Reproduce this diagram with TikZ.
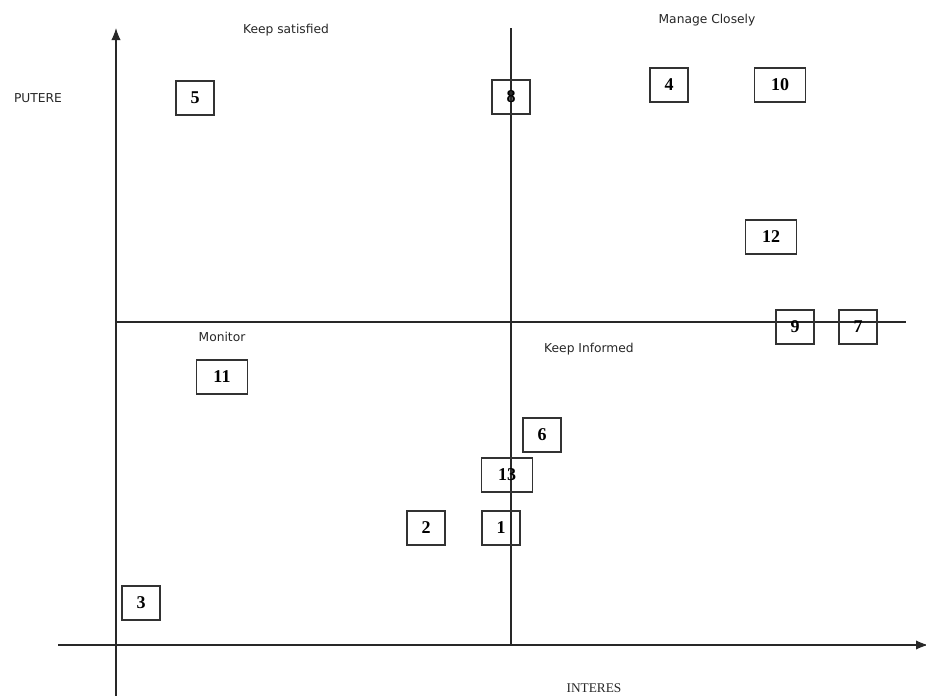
\documentclass[tikz,border=0pt]{standalone}
\usepackage{fontspec}
\setmainfont{Liberation Serif}
\newfontfamily\labelfont{DejaVu Sans}
\usepackage{tikz}
\usetikzlibrary{arrows.meta,positioning}
\definecolor{boxgray}{RGB}{50,50,50}
\definecolor{axisgray}{RGB}{40,40,40}

\begin{document}
\begin{tikzpicture}[x=0.75pt,y=-0.75pt,>={Latex[length=9pt,width=7pt]}, every node/.style={inner sep=0pt}]
\tikzstyle{num}=[draw=boxgray, line width=0.9pt, minimum width=28.5pt, minimum height=25.5pt, font=\fontsize{13.5}{15}\selectfont\bfseries]
\tikzstyle{wnum}=[num, minimum width=38pt]
\tikzstyle{quad}=[font=\labelfont\fontsize{9.2}{11}\selectfont, text=black!85]
\useasboundingbox (0,0) rectangle (926,696);
% axes and quadrant lines
\coordinate (xs) at (58,645); \coordinate (xe) at (928,645);
\coordinate (ys) at (116,696); \coordinate (ye) at (116,28);
\coordinate (hs) at (116,322); \coordinate (he) at (906,322);
\coordinate (vs) at (511,28); \coordinate (ve) at (511,645);
\draw[->, axisgray, line width=0.8pt] (xs) -- (xe);
\draw[->, axisgray, line width=0.8pt] (ys) -- (ye);
\draw[axisgray, line width=0.8pt] (hs) -- (he);
\draw[axisgray, line width=0.8pt] (vs) -- (ve);
% quadrant and axis labels
\node[quad] (ksat) at (286,30) {Keep satisfied};
\node[quad] (mclose) at (707,20) {Manage Closely};
\node[quad] (putere) at (38,98) {PUTERE};
\node[quad] (monitor) at (222,337) {Monitor};
\node[quad] (kinf) at (589,349) {Keep Informed};
\node[font=\fontsize{10}{12}\selectfont, text=black!85] (interes) at (594,688) {INTERES};
% stakeholders
\node[num] (s5) at (195,98) {5};
\node[num] (s8) at (511,97) {8};
\node[num] (s4) at (669,85) {4};
\node[wnum] (s10) at (780,85) {10};
\node[wnum] (s12) at (771,237) {12};
\node[num] (s9) at (795,327) {9};
\node[num] (s7) at (858,327) {7};
\node[wnum] (s11) at (222,377) {11};
\node[num] (s6) at (542,435) {6};
\node[wnum] (s13) at (507,475) {13};
\node[num] (s2) at (426,528) {2};
\node[num] (s1) at (501,528) {1};
\node[num] (s3) at (141,603) {3};
\end{tikzpicture}
\end{document}
